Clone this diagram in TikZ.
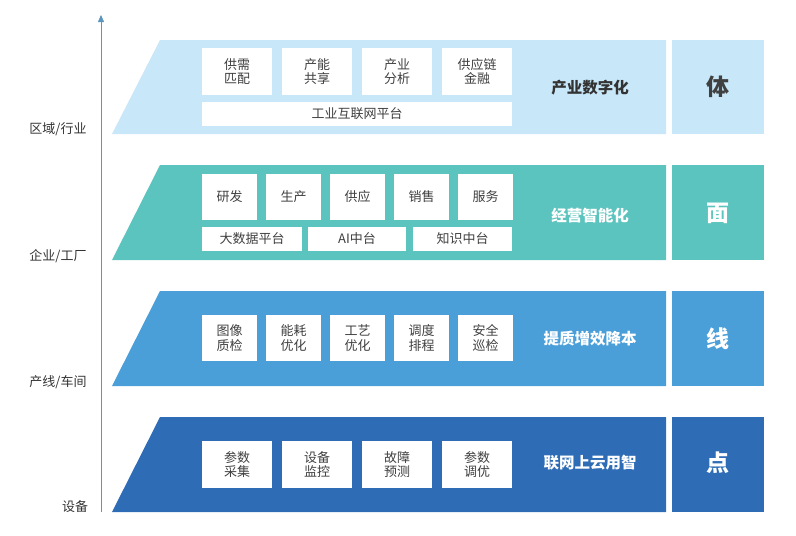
\documentclass[tikz,border=0pt]{standalone}
\usepackage{fontspec}
\setmainfont{Noto Sans CJK SC}
\usetikzlibrary{arrows.meta}
\begin{document}
\begin{tikzpicture}[x=1pt,y=-1pt,
 sbox/.style={fill=white,inner sep=0pt,align=center,font=\fontsize{13}{14.5}\selectfont,text=black!75},
 big/.style={font=\fontsize{15.5}{18}\selectfont\bfseries},
 side/.style={font=\fontsize{23}{25}\selectfont\bfseries},
 axl/.style={font=\fontsize{13}{15}\selectfont,text=black!80}]
\useasboundingbox (0,0) rectangle (796,536);
\definecolor{cA}{HTML}{C8E7F8}\definecolor{cB}{HTML}{5CC4BE}
\definecolor{cC}{HTML}{4A9FD9}\definecolor{cD}{HTML}{2E6CB6}
\draw[-{Triangle[width=6pt,length=7pt]},color=cC!70!gray] (101,512) -- (101,15);
\node[axl] (a1) at (58,129) {区域/行业};
\node[axl] (a2) at (58,256) {企业/工厂};
\node[axl] (a3) at (58,382) {产线/车间};
\node[axl] (a4) at (75,507) {设备};
% layers
\fill[cA] (112,134) -- (160,40) -- (666,40) -- (666,134) -- cycle;
\fill[cA] (672,40) rectangle (764,134);
\fill[cB] (112,260) -- (160,165) -- (666,165) -- (666,260) -- cycle;
\fill[cB] (672,165) rectangle (764,260);
\fill[cC] (112,386) -- (160,291) -- (666,291) -- (666,386) -- cycle;
\fill[cC] (672,291) rectangle (764,386);
\fill[cD] (112,512) -- (160,417) -- (666,417) -- (666,512) -- cycle;
\fill[cD] (672,417) rectangle (764,512);
\node[side,text=black!75] (s1) at (718,87) {体};
\node[side,text=white] (s2) at (718,213) {面};
\node[side,text=white] (s3) at (718,339) {线};
\node[side,text=white] (s4) at (718,463) {点};
\node[big,text=black!80] (l1) at (590,88) {产业数字化};
\node[big,text=white] (l2) at (590,216) {经营智能化};
\node[big,text=white] (l3) at (590,339) {提质增效降本};
\node[big,text=white] (l4) at (590,463) {联网上云用智};
% layer 1 boxes
\foreach \x/\t [count=\i] in {202/供需\\匹配,282/产能\\共享,362/产业\\分析,442/供应链\\金融}
  \node[sbox,minimum width=70pt,minimum height=47pt] (b1\i) at (\x+35,71.5) {\t};
\node[sbox,minimum width=310pt,minimum height=24pt] (p1) at (357,114) {工业互联网平台};
% layer 2
\foreach \x/\t [count=\i] in {202/研发,266/生产,330/供应,394/销售,458/服务}
  \node[sbox,minimum width=55pt,minimum height=46pt] (b2\i) at (\x+27.5,197) {\t};
\node[sbox,minimum width=100pt,minimum height=24pt] (p21) at (252,239) {大数据平台};
\node[sbox,minimum width=98pt,minimum height=24pt] (p22) at (357,239) {AI中台};
\node[sbox,minimum width=99pt,minimum height=24pt] (p23) at (462.5,239) {知识中台};
% layer 3
\foreach \x/\t [count=\i] in {202/图像\\质检,266/能耗\\优化,330/工艺\\优化,394/调度\\排程,458/安全\\巡检}
  \node[sbox,minimum width=55pt,minimum height=46pt] (b3\i) at (\x+27.5,338) {\t};
% layer 4
\foreach \x/\t [count=\i] in {202/参数\\采集,282/设备\\监控,362/故障\\预测,442/参数\\调优}
  \node[sbox,minimum width=70pt,minimum height=47pt] (b4\i) at (\x+35,464.5) {\t};
\end{tikzpicture}
\end{document}
